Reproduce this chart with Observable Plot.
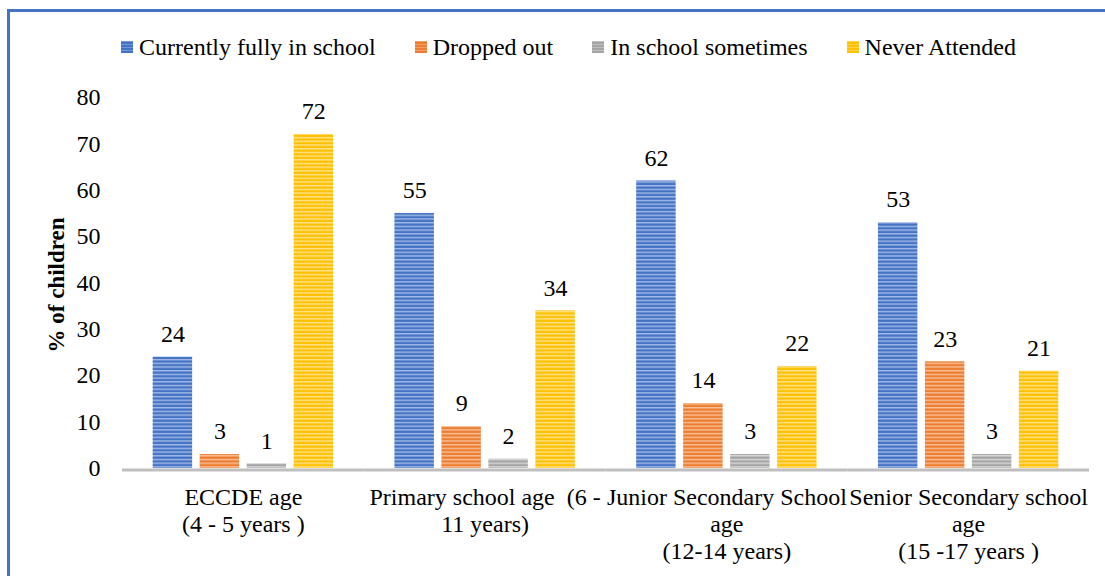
<!DOCTYPE html>
<html><head><meta charset="utf-8">
<script src="https://cdn.jsdelivr.net/npm/d3@7"></script>
<script src="https://cdn.jsdelivr.net/npm/@observablehq/plot@0.6"></script>
<style>
body{margin:0;background:#fff;font-family:"Liberation Serif","Times New Roman",serif;}
#wrap{position:relative;width:1105px;height:576px;overflow:hidden;background:#fff;}
#frame{position:absolute;left:7px;top:9px;width:1120px;height:600px;border:3px solid #4472C4;box-sizing:border-box;pointer-events:none;}
#chart{position:absolute;left:0;top:0;}
#legend{position:absolute;left:121px;top:33px;display:flex;align-items:center;font-size:24px;line-height:28px;color:#000;white-space:nowrap;}
#legend .item{display:flex;align-items:center;margin-right:39px;}
#legend .sw{width:12px;height:12px;margin-right:6px;}
#ytitle{position:absolute;left:57px;top:285px;transform:translate(-50%,-50%) rotate(-90deg);font-weight:bold;font-size:23px;white-space:nowrap;color:#000;}
</style>
</head><body>
<div id="wrap">
  <div id="chart"></div>
  <div id="legend"></div>
  <div id="ytitle">% of children</div>
  <div id="frame"></div>
</div>
<script>
const categories = [
  "ECCDE age\n(4 - 5 years )",
  "Primary school age  (6 -\n11 years)",
  "Junior Secondary School\nage\n(12-14 years)",
  "Senior Secondary school\nage\n(15 -17 years )"
];
const series = ["Currently fully in school", "Dropped out", "In school sometimes", "Never Attended"];
const currentlyFully = [24, 55, 62, 53];
const droppedOut = [3, 9, 14, 23];
const sometimes = [1, 2, 3, 3];
const neverAttended = [72, 34, 22, 21];
const yTicks = [0, 10, 20, 30, 40, 50, 60, 70, 80];

const baseColors = ["#4472C4", "#ED7D31", "#A5A5A5", "#FFC000"];
const lightColors = ["#a3bae6", "#f7c09a", "#d8d8d8", "#ffe38f"];
const patternIds = ["pat0", "pat1", "pat2", "pat3"];

const valuesBySeries = [currentlyFully, droppedOut, sometimes, neverAttended];
const data = [];
categories.forEach((c, i) => {
  series.forEach((s, j) => data.push({cat: c, series: s, value: valuesBySeries[j][i]}));
});

const font = "Liberation Serif, Times New Roman, serif";

const svg = Plot.plot({
  width: 1105,
  height: 576,
  marginLeft: 122,
  marginRight: 16,
  marginTop: 97,
  marginBottom: 108,
  style: {fontFamily: font, fontSize: "24px", color: "#000", background: "transparent"},
  fx: {domain: categories, padding: 0, round: false, label: null},
  x: {domain: series, paddingInner: 0.16, paddingOuter: 0.653, round: false, axis: null},
  y: {domain: [0, 80], label: null},
  color: {domain: series, range: patternIds.map(id => `url(#${id})`)},
  marks: [
    Plot.barY(data, {fx: "cat", x: "series", y: "value", fill: "series"}),
    Plot.ruleY([0], {stroke: "#BFBFBF", strokeWidth: 3, dy: 1.5}),
    Plot.text(data, {fx: "cat", x: "series", y: "value", text: d => String(d.value), dy: -23, fontSize: 24, fill: "#000"}),
    Plot.axisY({ticks: yTicks, tickSize: 0, tickPadding: 22, fontSize: 24, label: null}),
    Plot.axisFx({anchor: "bottom", tickSize: 0, tickPadding: 17, fontSize: 24, lineHeight: 1.125, label: null})
  ]
});

// stripe patterns
const ns = "http://www.w3.org/2000/svg";
const defs = document.createElementNS(ns, "defs");
patternIds.forEach((id, i) => {
  const p = document.createElementNS(ns, "pattern");
  p.setAttribute("id", id);
  p.setAttribute("patternUnits", "userSpaceOnUse");
  p.setAttribute("width", "8");
  p.setAttribute("height", "3.7");
  const r1 = document.createElementNS(ns, "rect");
  r1.setAttribute("width", "8"); r1.setAttribute("height", "3.7"); r1.setAttribute("fill", baseColors[i]);
  const r2 = document.createElementNS(ns, "rect");
  r2.setAttribute("width", "8"); r2.setAttribute("height", "1.4"); r2.setAttribute("fill", lightColors[i]);
  p.appendChild(r1); p.appendChild(r2);
  defs.appendChild(p);
});
svg.insertBefore(defs, svg.firstChild);
document.getElementById("chart").appendChild(svg);

// legend
const legend = document.getElementById("legend");
series.forEach((s, i) => {
  const item = document.createElement("div");
  item.className = "item";
  const sw = document.createElement("div");
  sw.className = "sw";
  sw.style.background = `repeating-linear-gradient(to bottom, ${lightColors[i]} 0px, ${baseColors[i]} 1px, ${baseColors[i]} 3px)`;
  const t = document.createElement("span");
  t.textContent = s;
  item.appendChild(sw); item.appendChild(t);
  legend.appendChild(item);
});
</script>
</body></html>
